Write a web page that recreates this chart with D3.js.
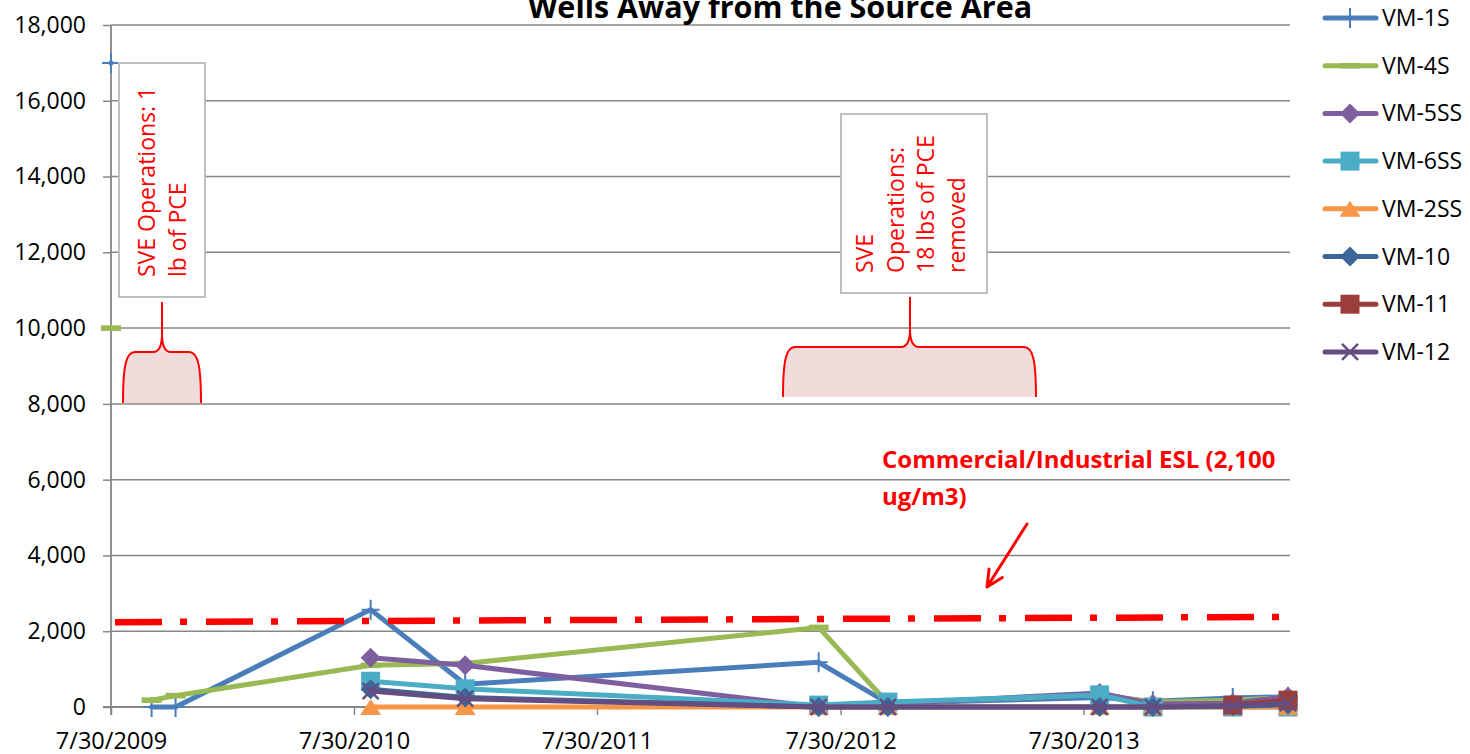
<!DOCTYPE html>
<html>
<head>
<meta charset="utf-8">
<script src="https://cdn.jsdelivr.net/npm/d3@7"></script>
<style>
  body { margin: 0; background: #fff; }
  svg { display: block; font-family: "Open Sans", sans-serif; }
</style>
</head>
<body>
<svg id="chart" width="1470" height="754"></svg>
<script>
// sampling events (a blank row after the first event breaks the lines)
var dates = ['2009-07-30', '2009-09-01', '2009-09-29', '2009-11-04', '2010-08-24', '2011-01-13',
             '2012-06-27', '2012-10-09', '2013-08-23', '2013-11-11', '2014-03-11', '2014-06-02'];

var vm1s  = [17000, null, 0,   0,   2570, 600,  1180, 100, 250, 150, 240, 270];
var vm4s  = [10000, null, 180, 300, 1100, 1150, 2100, 100, 330, 130, 180, 250];
var vm5ss = [null, null, null, null, 1300, 1100, 0,  80,  370, 80,  100, 270];
var vm6ss = [null, null, null, null, 680,  480,  50, 130, 320, 0,   0,   0];
var vm2ss = [null, null, null, null, 0,    0,    0,  0,   0,   0,   0,   0];
var vm10  = [null, null, null, null, 470,  250,  0,  0,   0,   0,   20,  60];
var vm11  = [null, null, null, null, null, null, null, null, null, null, 50, 180];
var vm12  = [null, null, null, null, 420,  220,  0,  0,   0,   0,   30,  100];

var seriesNames  = ['VM-1S', 'VM-4S', 'VM-5SS', 'VM-6SS', 'VM-2SS', 'VM-10', 'VM-11', 'VM-12'];
var seriesValues = [vm1s, vm4s, vm5ss, vm6ss, vm2ss, vm10, vm11, vm12];
var seriesColors = ['#4A7EBB', '#98B954', '#7D5FA0', '#4BACC6', '#F79646', '#3B6699', '#9B3D3A', '#644D80'];
var seriesMarker = ['plus', 'dash', 'diamond', 'square', 'triangle', 'diamond', 'square', 'cross'];

var xTicks = ['2009-07-30', '2010-07-30', '2011-07-30', '2012-07-30', '2013-07-30'];
var yTicks = [0, 2000, 4000, 6000, 8000, 10000, 12000, 14000, 16000, 18000];

// red dash-dot screening level line (drawn by hand, slightly sloped)
var eslDates  = ['2009-08-05', '2014-06-15'];
var eslValues = [2240, 2380];

var parse = d3.timeParse('%Y-%m-%d');

var svg = d3.select('#chart');

var x = d3.scaleTime()
    .domain([parse('2009-07-30'), parse('2014-06-05')])
    .range([111, 1290]);

var y = d3.scaleLinear()
    .domain([0, 18000])
    .range([707, 25]);

var gridColor = '#868686';

// gridlines
svg.append('g')
  .selectAll('line').data(yTicks.filter(function(d){ return d > 0; }))
  .enter().append('line')
    .attr('x1', 111).attr('x2', 1290)
    .attr('y1', function(d){ return y(d); })
    .attr('y2', function(d){ return y(d); })
    .attr('stroke', gridColor)
    .attr('stroke-width', 1.5);

// y axis
var yAxis = svg.append('g')
    .attr('transform', 'translate(111,0)')
    .call(d3.axisLeft(y).tickValues(yTicks).tickFormat(d3.format(',')).tickSize(8).tickPadding(17));
yAxis.select('.domain').attr('stroke', gridColor).attr('stroke-width', 1.8).attr('d', 'M0,25V715');
yAxis.selectAll('.tick line').attr('stroke', gridColor).attr('stroke-width', 1.5);
yAxis.selectAll('.tick text').attr('font-size', 23).attr('fill', '#000').style('font-family', '"Open Sans", sans-serif');

// x axis
var xAxis = svg.append('g')
    .attr('transform', 'translate(0,707)')
    .call(d3.axisBottom(x).tickValues(xTicks.map(parse)).tickFormat(d3.timeFormat('%-m/%d/%Y')).tickSize(8).tickPadding(17));
xAxis.select('.domain').attr('stroke', gridColor).attr('stroke-width', 1.8).attr('d', 'M103,0H1290');
xAxis.selectAll('.tick line').attr('stroke', gridColor).attr('stroke-width', 1.5);
xAxis.selectAll('.tick text').attr('font-size', 23.5).attr('fill', '#000').style('font-family', '"Open Sans", sans-serif');

// marker drawing
function drawMarker(g, type, color) {
  if (type === 'plus') {
    g.append('path').attr('d', 'M-9,0H9M0,-10V10').attr('stroke', color).attr('stroke-width', 2).attr('fill', 'none');
  } else if (type === 'dash') {
    g.append('rect').attr('x', -10).attr('y', -2.8).attr('width', 20).attr('height', 5.6).attr('fill', color);
  } else if (type === 'diamond') {
    g.append('path').attr('d', 'M0,-10L10,0L0,10L-10,0Z').attr('fill', color);
  } else if (type === 'square') {
    g.append('rect').attr('x', -9.5).attr('y', -9.5).attr('width', 19).attr('height', 19).attr('fill', color);
  } else if (type === 'triangle') {
    g.append('path').attr('d', 'M0,-8L10.5,8L-10.5,8Z').attr('fill', color);
  } else if (type === 'cross') {
    g.append('path').attr('d', 'M-8,-8L8,8M8,-8L-8,8').attr('stroke', color).attr('stroke-width', 2.5).attr('fill', 'none');
  }
}

var line = d3.line()
    .defined(function(d){ return d.v !== null; })
    .x(function(d){ return x(d.date); })
    .y(function(d){ return y(d.v); });

seriesNames.forEach(function(name, i) {
  var pts = dates.map(function(d, j){ return { date: parse(d), v: seriesValues[i][j] }; });
  var g = svg.append('g').attr('class', 'series');
  g.append('path')
    .datum(pts)
    .attr('d', line)
    .attr('fill', 'none')
    .attr('stroke', seriesColors[i])
    .attr('stroke-width', 5)
    .attr('stroke-linejoin', 'round')
    .attr('stroke-linecap', 'round');
  g.selectAll('g.mk').data(pts.filter(function(d){ return d.v !== null; }))
    .enter().append('g')
      .attr('class', 'mk')
      .attr('transform', function(d){ return 'translate(' + x(d.date) + ',' + y(d.v) + ')'; })
      .each(function(){ drawMarker(d3.select(this), seriesMarker[i], seriesColors[i]); });
});

// ---- annotations (drawing shapes on top of the chart) ----
var red = '#FF0000';

function bracePath(x0, x1, xm, yb, ys, yt, close) {
  var p = 'M' + x0 + ',' + yb +
    'C' + x0 + ',' + (ys + 14) + ' ' + (x0 + 3) + ',' + ys + ' ' + (x0 + 12) + ',' + ys +
    'L' + (xm - 9) + ',' + ys +
    'C' + (xm - 3) + ',' + ys + ' ' + xm + ',' + (ys - 5) + ' ' + xm + ',' + (ys - 18) +
    'L' + xm + ',' + yt +
    'L' + xm + ',' + (ys - 18) +
    'C' + xm + ',' + (ys - 5) + ' ' + (xm + 3) + ',' + ys + ' ' + (xm + 9) + ',' + ys +
    'L' + (x1 - 12) + ',' + ys +
    'C' + (x1 - 3) + ',' + ys + ' ' + x1 + ',' + (ys + 14) + ' ' + x1 + ',' + yb;
  return close ? p + 'Z' : p;
}

var braces = [
  { x0: 123, x1: 201, xm: 162, yb: 403, ys: 352, yt: 302 },
  { x0: 783, x1: 1036, xm: 910, yb: 397, ys: 347, yt: 297 }
];
braces.forEach(function(b) {
  svg.append('path').attr('d', bracePath(b.x0, b.x1, b.xm, b.yb, b.ys, b.yt, true))
    .attr('fill', '#F2DCDB').attr('stroke', 'none');
  svg.append('path').attr('d', bracePath(b.x0, b.x1, b.xm, b.yb, b.ys, b.yt, false))
    .attr('fill', 'none').attr('stroke', red).attr('stroke-width', 2);
});

var boxes = [
  { x: 119, y: 63, w: 86, h: 234, startY: 277, baseX: 155, lines: ['SVE Operations: 1', 'lb of PCE'] },
  { x: 841, y: 114, w: 146, h: 179, startY: 273, baseX: 873, lines: ['SVE', 'Operations:', '18 lbs of PCE', 'removed'] }
];
boxes.forEach(function(b) {
  svg.append('rect').attr('x', b.x).attr('y', b.y).attr('width', b.w).attr('height', b.h)
    .attr('fill', '#fff').attr('stroke', '#BFBFBF').attr('stroke-width', 2);
  b.lines.forEach(function(t, k) {
    var bx = b.baseX + k * 30.5;
    svg.append('text')
      .attr('transform', 'translate(' + bx + ',' + b.startY + ') rotate(-90)')
      .attr('font-size', 23)
      .attr('fill', red)
      .text(t);
  });
});

// ESL line
var eslPts = eslDates.map(function(d, i){ return [x(parse(d)), y(eslValues[i])]; });
svg.append('path')
  .attr('d', d3.line()(eslPts))
  .attr('stroke', red)
  .attr('stroke-width', 6.5)
  .attr('stroke-dasharray', '47,18,7,19')
  .attr('fill', 'none');

// ESL label + arrow
var lbl = svg.append('text').attr('font-size', 24).attr('font-weight', 'bold').attr('fill', red);
lbl.append('tspan').attr('x', 882).attr('y', 468).text('Commercial/Industrial ESL (2,100');
lbl.append('tspan').attr('x', 882).attr('y', 505).text('ug/m3)');

var ax0 = 1027, ay0 = 524, ax1 = 987, ay1 = 587;
var ang = Math.atan2(ay1 - ay0, ax1 - ax0);
var headLen = 18, spread = Math.PI / 7;
svg.append('path')
  .attr('d', 'M' + ax0 + ',' + ay0 + 'L' + ax1 + ',' + ay1 +
    'M' + (ax1 - headLen * Math.cos(ang - spread)) + ',' + (ay1 - headLen * Math.sin(ang - spread)) +
    'L' + ax1 + ',' + ay1 +
    'L' + (ax1 - headLen * Math.cos(ang + spread)) + ',' + (ay1 - headLen * Math.sin(ang + spread)))
  .attr('stroke', red).attr('stroke-width', 3).attr('fill', 'none')
  .attr('stroke-linecap', 'round').attr('stroke-linejoin', 'round');

// title (partly cut off at the top like the original)
svg.append('text')
  .attr('x', 780).attr('y', 18)
  .attr('text-anchor', 'middle')
  .attr('font-size', 30.5)
  .attr('font-weight', 'bold')
  .text('Wells Away from the Source Area');

// legend
var legend = svg.append('g');
seriesNames.forEach(function(name, i) {
  var ly = 18 + i * 47.7;
  var g = legend.append('g').attr('transform', 'translate(0,' + ly + ')');
  g.append('line').attr('x1', 1325).attr('x2', 1376).attr('y1', 0).attr('y2', 0)
    .attr('stroke', seriesColors[i]).attr('stroke-width', 5).attr('stroke-linecap', 'round');
  var m = g.append('g').attr('transform', 'translate(1350,0)');
  drawMarker(m, seriesMarker[i], seriesColors[i]);
  g.append('text').attr('x', 1382).attr('y', 0).attr('dy', '0.35em')
    .attr('font-size', 23).attr('fill', '#000').text(name);
});
</script>
</body>
</html>
